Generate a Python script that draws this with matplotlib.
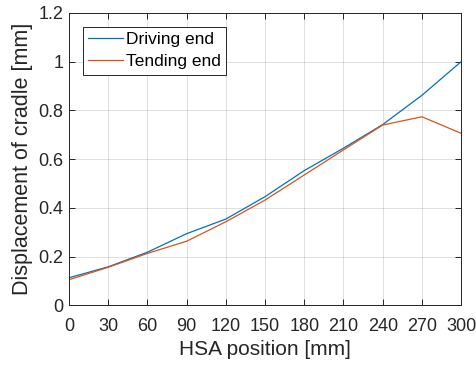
import matplotlib.pyplot as plt

plt.rcParams['font.family'] = ['Liberation Sans', 'DejaVu Sans']

# HSA position and measured cradle displacement at both ends
position = [0, 30, 60, 90, 120, 150, 180, 210, 240, 270, 300]
driving_end = [0.113, 0.158, 0.218, 0.294, 0.354, 0.446, 0.553, 0.645, 0.742, 0.862, 1.0]
tending_end = [0.105, 0.156, 0.213, 0.263, 0.343, 0.432, 0.535, 0.638, 0.740, 0.774, 0.706]

xticks = [0, 30, 60, 90, 120, 150, 180, 210, 240, 270, 300]
yticks = [0, 0.2, 0.4, 0.6, 0.8, 1.0, 1.2]
ytick_labels = ["0", "0.2", "0.4", "0.6", "0.8", "1", "1.2"]

dark = (0.15, 0.15, 0.15)

fig = plt.figure(figsize=(4.77, 3.65), dpi=100)
ax = fig.add_axes([0.1447, 0.1636, 0.822, 0.8008])

ax.plot(position, driving_end, color=(0, 0.447, 0.741), lw=0.9, label="Driving end")
ax.plot(position, tending_end, color=(0.85, 0.325, 0.098), lw=0.9, label="Tending end")

ax.set_xlim(0, 300)
ax.set_ylim(0, 1.2)
ax.set_xticks(xticks)
ax.set_yticks(yticks)
ax.set_yticklabels(ytick_labels)
ax.grid(True, color=dark, alpha=0.15, lw=0.7)
ax.tick_params(direction="in", top=True, right=True, labelsize=13,
               colors=dark, length=4, width=0.7, pad=4)
ax.tick_params(axis="x", pad=9)
for s in ax.spines.values():
    s.set_color(dark)
    s.set_linewidth(0.7)

ax.set_xlabel("HSA position [mm]", fontsize=15, color=dark, labelpad=4)
ax.set_ylabel("Displacement of cradle [mm]", fontsize=15.5, color=dark, labelpad=4)

leg = ax.legend(loc="upper left", fontsize=12.5, fancybox=False, framealpha=1,
                edgecolor=dark, handlelength=2.0, handletextpad=0.2,
                borderpad=0.3, labelspacing=0.4, borderaxespad=0.8)
leg.get_frame().set_linewidth(0.7)

fig.savefig("out.png", dpi=100)
